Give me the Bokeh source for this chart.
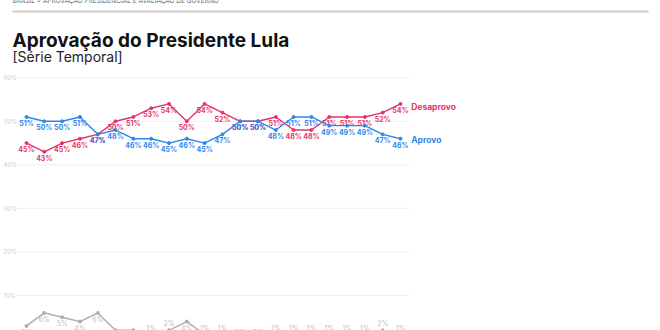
from bokeh.plotting import figure
from bokeh.models import Range1d, Label, ColumnDataSource
from bokeh.embed import file_html
from bokeh.resources import INLINE
from bokeh.core.properties import value

# ---- data ----
desaprovo = [45, 43, 45, 46, 47, 50, 51, 53, 54, 50, 54, 52, 50, 50, 51, 48, 48, 51, 51, 51, 52, 54]
aprovo = [51, 50, 50, 51, 47, 48, 46, 46, 45, 46, 45, 47, 50, 50, 48, 51, 51, 49, 49, 49, 47, 46]
nao_sabe = [3, 6, 5, 4, 6, 2, 2, 1, 2, 4, 1, 1, 0, 0, 1, 1, 1, 1, 1, 1, 2, 1]
y_ticks = [10, 20, 30, 40, 50, 60]
y_tick_labels = ["10%", "20%", "30%", "40%", "50%", "60%"]
series_names = ["Desaprovo", "Aprovo"]

RED = "#e4336c"
BLUE = "#2f86ea"
GREY = "#b0aaa8"
FONT = "Inter"

W, H = 660, 330
X0, DX = 26.0, 17.81       # screen px of first point, px per step
Y0, DY = 338.5, 4.354      # screen px (from top) of 0%, px per %

n = len(aprovo)
xs = list(range(n))

p = figure(width=W, height=H, output_backend="svg", toolbar_location=None,
           x_range=Range1d(-X0 / DX, (W - X0) / DX),
           y_range=Range1d((Y0 - H) / DY, Y0 / DY),
           min_border=0, outline_line_color=None)
p.axis.visible = False
p.grid.visible = False
p.background_fill_color = "white"
p.border_fill_color = "white"

# grid lines
gx0, gx1 = -0.58, n - 0.5
p.segment(x0=[gx0] * len(y_ticks), x1=[gx1] * len(y_ticks), y0=y_ticks, y1=y_ticks,
          line_color="#efefef", line_width=1)
p.text(x=[-X0 / DX + 3 / DX] * len(y_ticks), y=y_ticks, text=y_tick_labels,
       text_font=value(FONT), text_font_size="6px", text_color="#d0d0d0",
       text_baseline="middle", text_align="left")


def label_above(vals, i):
    v = vals[i]
    prev = vals[i - 1] if i > 0 else v
    return v <= 1 or (v == 2 and prev < v)


def draw(vals, color, lab_color, small_above=False, weight="bold"):
    src = ColumnDataSource(dict(x=xs, y=vals))
    p.line("x", "y", source=src, line_color=color, line_width=1.4)
    p.scatter("x", "y", source=src, size=3, color=color)
    if small_above:
        up = [i for i in range(len(vals)) if label_above(vals, i)]
    else:
        up = []
    dn = [i for i in range(len(vals)) if i not in up]
    for idx, off in ((dn, 6.5), (up, -6.5)):
        if not idx:
            continue
        p.text(x=[xs[i] for i in idx], y=[vals[i] for i in idx],
               text=[f"{vals[i]}%" for i in idx],
               text_font=value(FONT), text_font_size="7px", text_font_style=weight,
               text_color=lab_color, text_align="center", text_baseline="middle",
               y_offset=off)


draw(nao_sabe, GREY, "#c4c0bf", small_above=True, weight="normal")
draw(desaprovo, RED, RED)
draw(aprovo, BLUE, BLUE)

# end labels
p.text(x=[n - 1 + 0.6] * 2, y=[desaprovo[-1] - 0.8, aprovo[-1] - 0.4], text=series_names,
       text_font=value(FONT), text_font_size="8.5px", text_font_style="bold",
       text_color=[RED, BLUE], text_align="left", text_baseline="middle")

# header
p.add_layout(Label(x=12, y=H - 4, x_units="screen", y_units="screen",
                   text="BRASIL > APROVAÇÃO PRESIDENCIAL E AVALIAÇÃO DE GOVERNO",
                   text_font=FONT, text_font_size="6.5px", text_color="#555555",
                   text_baseline="bottom"))
p.add_layout(Label(x=12, y=H - 40, x_units="screen", y_units="screen",
                   text="Aprovação do Presidente Lula",
                   text_font=FONT, text_font_size="19px", text_font_style="bold",
                   text_color="#111111", text_baseline="alphabetic"))
p.add_layout(Label(x=12, y=H - 56, x_units="screen", y_units="screen",
                   text="[Série Temporal]",
                   text_font=FONT, text_font_size="14px", text_color="#222222",
                   text_baseline="alphabetic"))
# rule under header
p.segment(x0=[(12 - X0) / DX], x1=[(648 - X0) / DX], y0=[(Y0 - 11) / DY], y1=[(Y0 - 11) / DY],
          line_color="#cccccc", line_width=2)

open("out.html", "w").write(file_html(p, INLINE))
